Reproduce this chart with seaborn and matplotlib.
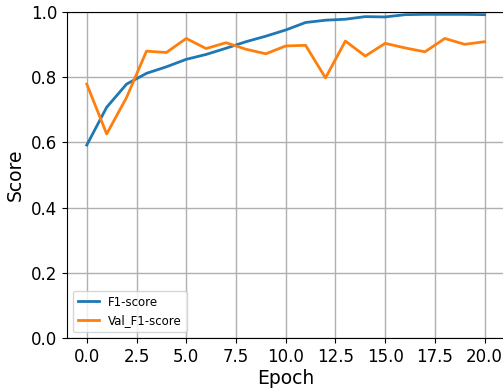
import matplotlib
matplotlib.use("Agg")
import matplotlib.pyplot as plt
import seaborn as sns
import pandas as pd

epochs = list(range(21))
f1_score = [0.592, 0.708, 0.779, 0.812, 0.832, 0.855, 0.870, 0.889, 0.909, 0.926,
            0.945, 0.968, 0.975, 0.978, 0.986, 0.985, 0.992, 0.993, 0.993, 0.993, 0.992]
val_f1_score = [0.779, 0.626, 0.738, 0.880, 0.876, 0.919, 0.888, 0.906, 0.886, 0.872,
                0.896, 0.898, 0.798, 0.911, 0.865, 0.904, 0.890, 0.878, 0.919, 0.901, 0.909]
x_ticks = [0.0, 2.5, 5.0, 7.5, 10.0, 12.5, 15.0, 17.5, 20.0]
y_ticks = [0.0, 0.2, 0.4, 0.6, 0.8, 1.0]

df = pd.DataFrame({
    "Epoch": epochs * 2,
    "Score": f1_score + val_f1_score,
    "Series": ["F1-score"] * 21 + ["Val_F1-score"] * 21,
})

fig = plt.figure(figsize=(5.03, 3.89), dpi=100)
ax = fig.add_axes([0.133, 0.131, 0.870, 0.838])
sns.lineplot(data=df, x="Epoch", y="Score", hue="Series",
             palette=["#1f77b4", "#ff7f0e"], linewidth=2, ax=ax)
ax.set_ylim(0, 1.0)
ax.set_xlim(-1, 21)
ax.set_xticks(x_ticks)
ax.set_xticklabels([f"{t:.1f}" for t in x_ticks])
ax.set_yticks(y_ticks)
ax.set_yticklabels([f"{t:.1f}" for t in y_ticks])
ax.grid(True, color="#b0b0b0", linewidth=1)
ax.set_axisbelow(True)
ax.tick_params(labelsize=12)
ax.set_xlabel("Epoch", fontsize=13.5, labelpad=2)
ax.set_ylabel("Score", fontsize=13.5)
leg = ax.legend(loc="lower left", fontsize=8.5, handlelength=1.8)
leg.set_title(None)
fig.savefig("out.png", dpi=100)
